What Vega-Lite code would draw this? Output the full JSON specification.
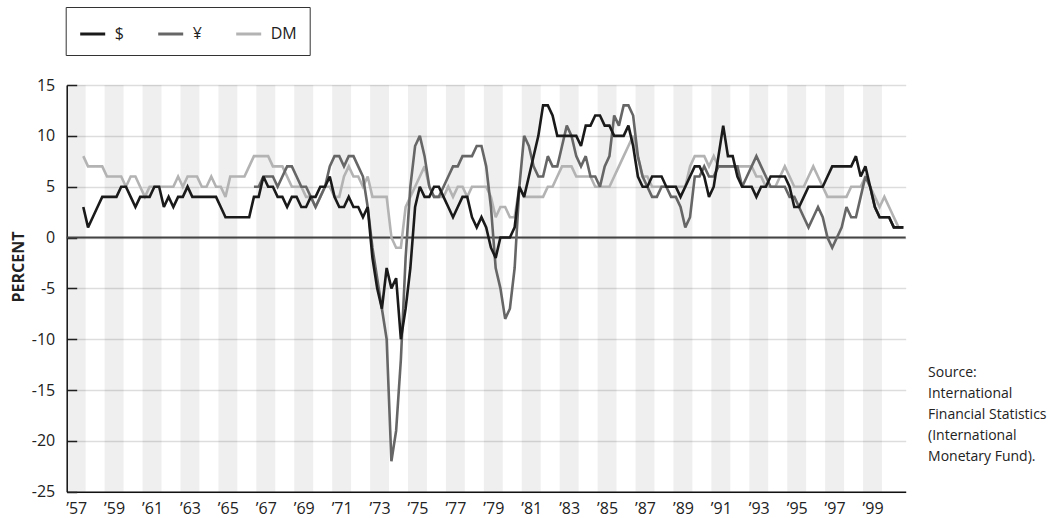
{
  "$schema": "https://vega.github.io/schema/vega-lite/v6.json",
  "width": 839,
  "height": 406.7,
  "autosize": {"type": "none"},
  "padding": {"left": 66.7, "top": 85, "right": 152.3, "bottom": 26.3},
  "background": "white",
  "config": {"font": "Open Sans", "view": {"stroke": null}, "axisX": {"labelOverlap": false}, "axisY": {"labelOverlap": false}},
  "datasets": {
    "bands": [
      {"a":1957,"b":1958},{"a":1959,"b":1960},{"a":1961,"b":1962},{"a":1963,"b":1964},{"a":1965,"b":1966},{"a":1967,"b":1968},{"a":1969,"b":1970},{"a":1971,"b":1972},{"a":1973,"b":1974},{"a":1975,"b":1976},{"a":1977,"b":1978},{"a":1979,"b":1980},{"a":1981,"b":1982},{"a":1983,"b":1984},{"a":1985,"b":1986},{"a":1987,"b":1988},{"a":1989,"b":1990},{"a":1991,"b":1992},{"a":1993,"b":1994},{"a":1995,"b":1996},{"a":1997,"b":1998},{"a":1999,"b":2000}
    ],
    "note": [{"note": "Source:\nInternational\nFinancial Statistics\n(International\nMonetary Fund)."}],
    "series": [
      {"t":1957.875,"c":"DM","v":8},
      {"t":1958.125,"c":"DM","v":7},{"t":1958.375,"c":"DM","v":7},{"t":1958.625,"c":"DM","v":7},{"t":1958.875,"c":"DM","v":7},
      {"t":1959.125,"c":"DM","v":6},{"t":1959.375,"c":"DM","v":6},{"t":1959.625,"c":"DM","v":6},{"t":1959.875,"c":"DM","v":6},
      {"t":1960.125,"c":"DM","v":5},{"t":1960.375,"c":"DM","v":6},{"t":1960.625,"c":"DM","v":6},{"t":1960.875,"c":"DM","v":5},
      {"t":1961.125,"c":"DM","v":4},{"t":1961.375,"c":"DM","v":5},{"t":1961.625,"c":"DM","v":5},{"t":1961.875,"c":"DM","v":5},
      {"t":1962.125,"c":"DM","v":5},{"t":1962.375,"c":"DM","v":5},{"t":1962.625,"c":"DM","v":5},{"t":1962.875,"c":"DM","v":6},
      {"t":1963.125,"c":"DM","v":5},{"t":1963.375,"c":"DM","v":6},{"t":1963.625,"c":"DM","v":6},{"t":1963.875,"c":"DM","v":6},
      {"t":1964.125,"c":"DM","v":5},{"t":1964.375,"c":"DM","v":5},{"t":1964.625,"c":"DM","v":6},{"t":1964.875,"c":"DM","v":5},
      {"t":1965.125,"c":"DM","v":5},{"t":1965.375,"c":"DM","v":4},{"t":1965.625,"c":"DM","v":6},{"t":1965.875,"c":"DM","v":6},
      {"t":1966.125,"c":"DM","v":6},{"t":1966.375,"c":"DM","v":6},{"t":1966.625,"c":"DM","v":7},{"t":1966.875,"c":"DM","v":8},
      {"t":1967.125,"c":"DM","v":8},{"t":1967.375,"c":"DM","v":8},{"t":1967.625,"c":"DM","v":8},{"t":1967.875,"c":"DM","v":7},
      {"t":1968.125,"c":"DM","v":7},{"t":1968.375,"c":"DM","v":7},{"t":1968.625,"c":"DM","v":6},{"t":1968.875,"c":"DM","v":5},
      {"t":1969.125,"c":"DM","v":5},{"t":1969.375,"c":"DM","v":5},{"t":1969.625,"c":"DM","v":4},{"t":1969.875,"c":"DM","v":4},
      {"t":1970.125,"c":"DM","v":3},{"t":1970.375,"c":"DM","v":4},{"t":1970.625,"c":"DM","v":5},{"t":1970.875,"c":"DM","v":5},
      {"t":1971.125,"c":"DM","v":4},{"t":1971.375,"c":"DM","v":4},{"t":1971.625,"c":"DM","v":6},{"t":1971.875,"c":"DM","v":7},
      {"t":1972.125,"c":"DM","v":6},{"t":1972.375,"c":"DM","v":6},{"t":1972.625,"c":"DM","v":5},{"t":1972.875,"c":"DM","v":6},
      {"t":1973.125,"c":"DM","v":4},{"t":1973.375,"c":"DM","v":4},{"t":1973.625,"c":"DM","v":4},{"t":1973.875,"c":"DM","v":4},
      {"t":1974.125,"c":"DM","v":0},{"t":1974.375,"c":"DM","v":-1},{"t":1974.625,"c":"DM","v":-1},{"t":1974.875,"c":"DM","v":3},
      {"t":1975.125,"c":"DM","v":4},{"t":1975.375,"c":"DM","v":5},{"t":1975.625,"c":"DM","v":6},{"t":1975.875,"c":"DM","v":7},
      {"t":1976.125,"c":"DM","v":5},{"t":1976.375,"c":"DM","v":4},{"t":1976.625,"c":"DM","v":4},{"t":1976.875,"c":"DM","v":4},
      {"t":1977.125,"c":"DM","v":5},{"t":1977.375,"c":"DM","v":4},{"t":1977.625,"c":"DM","v":5},{"t":1977.875,"c":"DM","v":5},
      {"t":1978.125,"c":"DM","v":4},{"t":1978.375,"c":"DM","v":5},{"t":1978.625,"c":"DM","v":5},{"t":1978.875,"c":"DM","v":5},
      {"t":1979.125,"c":"DM","v":5},{"t":1979.375,"c":"DM","v":4},{"t":1979.625,"c":"DM","v":2},{"t":1979.875,"c":"DM","v":3},
      {"t":1980.125,"c":"DM","v":3},{"t":1980.375,"c":"DM","v":2},{"t":1980.625,"c":"DM","v":2},{"t":1980.875,"c":"DM","v":5},
      {"t":1981.125,"c":"DM","v":4},{"t":1981.375,"c":"DM","v":4},{"t":1981.625,"c":"DM","v":4},{"t":1981.875,"c":"DM","v":4},
      {"t":1982.125,"c":"DM","v":4},{"t":1982.375,"c":"DM","v":5},{"t":1982.625,"c":"DM","v":5},{"t":1982.875,"c":"DM","v":6},
      {"t":1983.125,"c":"DM","v":7},{"t":1983.375,"c":"DM","v":7},{"t":1983.625,"c":"DM","v":7},{"t":1983.875,"c":"DM","v":6},
      {"t":1984.125,"c":"DM","v":6},{"t":1984.375,"c":"DM","v":6},{"t":1984.625,"c":"DM","v":6},{"t":1984.875,"c":"DM","v":5},
      {"t":1985.125,"c":"DM","v":5},{"t":1985.375,"c":"DM","v":5},{"t":1985.625,"c":"DM","v":5},{"t":1985.875,"c":"DM","v":6},
      {"t":1986.125,"c":"DM","v":7},{"t":1986.375,"c":"DM","v":8},{"t":1986.625,"c":"DM","v":9},{"t":1986.875,"c":"DM","v":10},
      {"t":1987.125,"c":"DM","v":8},{"t":1987.375,"c":"DM","v":6},{"t":1987.625,"c":"DM","v":6},{"t":1987.875,"c":"DM","v":5},
      {"t":1988.125,"c":"DM","v":5},{"t":1988.375,"c":"DM","v":5},{"t":1988.625,"c":"DM","v":5},{"t":1988.875,"c":"DM","v":5},
      {"t":1989.125,"c":"DM","v":5},{"t":1989.375,"c":"DM","v":5},{"t":1989.625,"c":"DM","v":5},{"t":1989.875,"c":"DM","v":7},
      {"t":1990.125,"c":"DM","v":8},{"t":1990.375,"c":"DM","v":8},{"t":1990.625,"c":"DM","v":8},{"t":1990.875,"c":"DM","v":7},
      {"t":1991.125,"c":"DM","v":8},{"t":1991.375,"c":"DM","v":7},{"t":1991.625,"c":"DM","v":7},{"t":1991.875,"c":"DM","v":7},
      {"t":1992.125,"c":"DM","v":7},{"t":1992.375,"c":"DM","v":7},{"t":1992.625,"c":"DM","v":7},{"t":1992.875,"c":"DM","v":7},
      {"t":1993.125,"c":"DM","v":7},{"t":1993.375,"c":"DM","v":6},{"t":1993.625,"c":"DM","v":6},{"t":1993.875,"c":"DM","v":5},
      {"t":1994.125,"c":"DM","v":5},{"t":1994.375,"c":"DM","v":5},{"t":1994.625,"c":"DM","v":6},{"t":1994.875,"c":"DM","v":7},
      {"t":1995.125,"c":"DM","v":6},{"t":1995.375,"c":"DM","v":5},{"t":1995.625,"c":"DM","v":5},{"t":1995.875,"c":"DM","v":5},
      {"t":1996.125,"c":"DM","v":6},{"t":1996.375,"c":"DM","v":7},{"t":1996.625,"c":"DM","v":6},{"t":1996.875,"c":"DM","v":5},
      {"t":1997.125,"c":"DM","v":4},{"t":1997.375,"c":"DM","v":4},{"t":1997.625,"c":"DM","v":4},{"t":1997.875,"c":"DM","v":4},
      {"t":1998.125,"c":"DM","v":4},{"t":1998.375,"c":"DM","v":5},{"t":1998.625,"c":"DM","v":5},{"t":1998.875,"c":"DM","v":5},
      {"t":1999.125,"c":"DM","v":6},{"t":1999.375,"c":"DM","v":5},{"t":1999.625,"c":"DM","v":4},{"t":1999.875,"c":"DM","v":3},
      {"t":2000.125,"c":"DM","v":4},{"t":2000.375,"c":"DM","v":3},{"t":2000.625,"c":"DM","v":2},{"t":2000.875,"c":"DM","v":1},
      {"t":2001.125,"c":"DM","v":1},

      {"t":1966.875,"c":"¥","v":5},
      {"t":1967.125,"c":"¥","v":5},{"t":1967.375,"c":"¥","v":6},{"t":1967.625,"c":"¥","v":6},{"t":1967.875,"c":"¥","v":6},
      {"t":1968.125,"c":"¥","v":5},{"t":1968.375,"c":"¥","v":6},{"t":1968.625,"c":"¥","v":7},{"t":1968.875,"c":"¥","v":7},
      {"t":1969.125,"c":"¥","v":6},{"t":1969.375,"c":"¥","v":5},{"t":1969.625,"c":"¥","v":5},{"t":1969.875,"c":"¥","v":4},
      {"t":1970.125,"c":"¥","v":3},{"t":1970.375,"c":"¥","v":4},{"t":1970.625,"c":"¥","v":5},{"t":1970.875,"c":"¥","v":7},
      {"t":1971.125,"c":"¥","v":8},{"t":1971.375,"c":"¥","v":8},{"t":1971.625,"c":"¥","v":7},{"t":1971.875,"c":"¥","v":8},
      {"t":1972.125,"c":"¥","v":8},{"t":1972.375,"c":"¥","v":7},{"t":1972.625,"c":"¥","v":6},{"t":1972.875,"c":"¥","v":3},
      {"t":1973.125,"c":"¥","v":-1},{"t":1973.375,"c":"¥","v":-4},{"t":1973.625,"c":"¥","v":-7},{"t":1973.875,"c":"¥","v":-10},
      {"t":1974.125,"c":"¥","v":-22},{"t":1974.375,"c":"¥","v":-19},{"t":1974.625,"c":"¥","v":-12},{"t":1974.875,"c":"¥","v":-2},
      {"t":1975.125,"c":"¥","v":5},{"t":1975.375,"c":"¥","v":9},{"t":1975.625,"c":"¥","v":10},{"t":1975.875,"c":"¥","v":8},
      {"t":1976.125,"c":"¥","v":5},{"t":1976.375,"c":"¥","v":4},{"t":1976.625,"c":"¥","v":4},{"t":1976.875,"c":"¥","v":5},
      {"t":1977.125,"c":"¥","v":6},{"t":1977.375,"c":"¥","v":7},{"t":1977.625,"c":"¥","v":7},{"t":1977.875,"c":"¥","v":8},
      {"t":1978.125,"c":"¥","v":8},{"t":1978.375,"c":"¥","v":8},{"t":1978.625,"c":"¥","v":9},{"t":1978.875,"c":"¥","v":9},
      {"t":1979.125,"c":"¥","v":7},{"t":1979.375,"c":"¥","v":3},{"t":1979.625,"c":"¥","v":-3},{"t":1979.875,"c":"¥","v":-5},
      {"t":1980.125,"c":"¥","v":-8},{"t":1980.375,"c":"¥","v":-7},{"t":1980.625,"c":"¥","v":-3},{"t":1980.875,"c":"¥","v":5},
      {"t":1981.125,"c":"¥","v":10},{"t":1981.375,"c":"¥","v":9},{"t":1981.625,"c":"¥","v":7},{"t":1981.875,"c":"¥","v":6},
      {"t":1982.125,"c":"¥","v":6},{"t":1982.375,"c":"¥","v":8},{"t":1982.625,"c":"¥","v":7},{"t":1982.875,"c":"¥","v":7},
      {"t":1983.125,"c":"¥","v":9},{"t":1983.375,"c":"¥","v":11},{"t":1983.625,"c":"¥","v":10},{"t":1983.875,"c":"¥","v":8},
      {"t":1984.125,"c":"¥","v":7},{"t":1984.375,"c":"¥","v":8},{"t":1984.625,"c":"¥","v":6},{"t":1984.875,"c":"¥","v":6},
      {"t":1985.125,"c":"¥","v":5},{"t":1985.375,"c":"¥","v":7},{"t":1985.625,"c":"¥","v":8},{"t":1985.875,"c":"¥","v":12},
      {"t":1986.125,"c":"¥","v":11},{"t":1986.375,"c":"¥","v":13},{"t":1986.625,"c":"¥","v":13},{"t":1986.875,"c":"¥","v":12},
      {"t":1987.125,"c":"¥","v":8},{"t":1987.375,"c":"¥","v":6},{"t":1987.625,"c":"¥","v":5},{"t":1987.875,"c":"¥","v":4},
      {"t":1988.125,"c":"¥","v":4},{"t":1988.375,"c":"¥","v":5},{"t":1988.625,"c":"¥","v":5},{"t":1988.875,"c":"¥","v":4},
      {"t":1989.125,"c":"¥","v":4},{"t":1989.375,"c":"¥","v":3},{"t":1989.625,"c":"¥","v":1},{"t":1989.875,"c":"¥","v":2},
      {"t":1990.125,"c":"¥","v":6},{"t":1990.375,"c":"¥","v":6},{"t":1990.625,"c":"¥","v":7},{"t":1990.875,"c":"¥","v":6},
      {"t":1991.125,"c":"¥","v":6},{"t":1991.375,"c":"¥","v":7},{"t":1991.625,"c":"¥","v":7},{"t":1991.875,"c":"¥","v":7},
      {"t":1992.125,"c":"¥","v":7},{"t":1992.375,"c":"¥","v":7},{"t":1992.625,"c":"¥","v":5},{"t":1992.875,"c":"¥","v":6},
      {"t":1993.125,"c":"¥","v":7},{"t":1993.375,"c":"¥","v":8},{"t":1993.625,"c":"¥","v":7},{"t":1993.875,"c":"¥","v":6},
      {"t":1994.125,"c":"¥","v":5},{"t":1994.375,"c":"¥","v":5},{"t":1994.625,"c":"¥","v":5},{"t":1994.875,"c":"¥","v":5},
      {"t":1995.125,"c":"¥","v":4},{"t":1995.375,"c":"¥","v":4},{"t":1995.625,"c":"¥","v":3},{"t":1995.875,"c":"¥","v":2},
      {"t":1996.125,"c":"¥","v":1},{"t":1996.375,"c":"¥","v":2},{"t":1996.625,"c":"¥","v":3},{"t":1996.875,"c":"¥","v":2},
      {"t":1997.125,"c":"¥","v":0},{"t":1997.375,"c":"¥","v":-1},{"t":1997.625,"c":"¥","v":0},{"t":1997.875,"c":"¥","v":1},
      {"t":1998.125,"c":"¥","v":3},{"t":1998.375,"c":"¥","v":2},{"t":1998.625,"c":"¥","v":2},{"t":1998.875,"c":"¥","v":4},
      {"t":1999.125,"c":"¥","v":6},{"t":1999.375,"c":"¥","v":5},{"t":1999.625,"c":"¥","v":3},{"t":1999.875,"c":"¥","v":2},
      {"t":2000.125,"c":"¥","v":2},{"t":2000.375,"c":"¥","v":2},{"t":2000.625,"c":"¥","v":1},{"t":2000.875,"c":"¥","v":1},
      {"t":2001.125,"c":"¥","v":1},

      {"t":1957.875,"c":"$","v":3},
      {"t":1958.125,"c":"$","v":1},{"t":1958.375,"c":"$","v":2},{"t":1958.625,"c":"$","v":3},{"t":1958.875,"c":"$","v":4},
      {"t":1959.125,"c":"$","v":4},{"t":1959.375,"c":"$","v":4},{"t":1959.625,"c":"$","v":4},{"t":1959.875,"c":"$","v":5},
      {"t":1960.125,"c":"$","v":5},{"t":1960.375,"c":"$","v":4},{"t":1960.625,"c":"$","v":3},{"t":1960.875,"c":"$","v":4},
      {"t":1961.125,"c":"$","v":4},{"t":1961.375,"c":"$","v":4},{"t":1961.625,"c":"$","v":5},{"t":1961.875,"c":"$","v":5},
      {"t":1962.125,"c":"$","v":3},{"t":1962.375,"c":"$","v":4},{"t":1962.625,"c":"$","v":3},{"t":1962.875,"c":"$","v":4},
      {"t":1963.125,"c":"$","v":4},{"t":1963.375,"c":"$","v":5},{"t":1963.625,"c":"$","v":4},{"t":1963.875,"c":"$","v":4},
      {"t":1964.125,"c":"$","v":4},{"t":1964.375,"c":"$","v":4},{"t":1964.625,"c":"$","v":4},{"t":1964.875,"c":"$","v":4},
      {"t":1965.125,"c":"$","v":3},{"t":1965.375,"c":"$","v":2},{"t":1965.625,"c":"$","v":2},{"t":1965.875,"c":"$","v":2},
      {"t":1966.125,"c":"$","v":2},{"t":1966.375,"c":"$","v":2},{"t":1966.625,"c":"$","v":2},{"t":1966.875,"c":"$","v":4},
      {"t":1967.125,"c":"$","v":4},{"t":1967.375,"c":"$","v":6},{"t":1967.625,"c":"$","v":5},{"t":1967.875,"c":"$","v":5},
      {"t":1968.125,"c":"$","v":4},{"t":1968.375,"c":"$","v":4},{"t":1968.625,"c":"$","v":3},{"t":1968.875,"c":"$","v":4},
      {"t":1969.125,"c":"$","v":4},{"t":1969.375,"c":"$","v":3},{"t":1969.625,"c":"$","v":3},{"t":1969.875,"c":"$","v":4},
      {"t":1970.125,"c":"$","v":4},{"t":1970.375,"c":"$","v":5},{"t":1970.625,"c":"$","v":5},{"t":1970.875,"c":"$","v":6},
      {"t":1971.125,"c":"$","v":4},{"t":1971.375,"c":"$","v":3},{"t":1971.625,"c":"$","v":3},{"t":1971.875,"c":"$","v":4},
      {"t":1972.125,"c":"$","v":3},{"t":1972.375,"c":"$","v":3},{"t":1972.625,"c":"$","v":2},{"t":1972.875,"c":"$","v":3},
      {"t":1973.125,"c":"$","v":-2},{"t":1973.375,"c":"$","v":-5},{"t":1973.625,"c":"$","v":-7},{"t":1973.875,"c":"$","v":-3},
      {"t":1974.125,"c":"$","v":-5},{"t":1974.375,"c":"$","v":-4},{"t":1974.625,"c":"$","v":-10},{"t":1974.875,"c":"$","v":-7},
      {"t":1975.125,"c":"$","v":-3},{"t":1975.375,"c":"$","v":3},{"t":1975.625,"c":"$","v":5},{"t":1975.875,"c":"$","v":4},
      {"t":1976.125,"c":"$","v":4},{"t":1976.375,"c":"$","v":5},{"t":1976.625,"c":"$","v":5},{"t":1976.875,"c":"$","v":4},
      {"t":1977.125,"c":"$","v":3},{"t":1977.375,"c":"$","v":2},{"t":1977.625,"c":"$","v":3},{"t":1977.875,"c":"$","v":4},
      {"t":1978.125,"c":"$","v":4},{"t":1978.375,"c":"$","v":2},{"t":1978.625,"c":"$","v":1},{"t":1978.875,"c":"$","v":2},
      {"t":1979.125,"c":"$","v":1},{"t":1979.375,"c":"$","v":-1},{"t":1979.625,"c":"$","v":-2},{"t":1979.875,"c":"$","v":0},
      {"t":1980.125,"c":"$","v":0},{"t":1980.375,"c":"$","v":0},{"t":1980.625,"c":"$","v":1},{"t":1980.875,"c":"$","v":5},
      {"t":1981.125,"c":"$","v":4},{"t":1981.375,"c":"$","v":6},{"t":1981.625,"c":"$","v":8},{"t":1981.875,"c":"$","v":10},
      {"t":1982.125,"c":"$","v":13},{"t":1982.375,"c":"$","v":13},{"t":1982.625,"c":"$","v":12},{"t":1982.875,"c":"$","v":10},
      {"t":1983.125,"c":"$","v":10},{"t":1983.375,"c":"$","v":10},{"t":1983.625,"c":"$","v":10},{"t":1983.875,"c":"$","v":10},
      {"t":1984.125,"c":"$","v":9},{"t":1984.375,"c":"$","v":11},{"t":1984.625,"c":"$","v":11},{"t":1984.875,"c":"$","v":12},
      {"t":1985.125,"c":"$","v":12},{"t":1985.375,"c":"$","v":11},{"t":1985.625,"c":"$","v":11},{"t":1985.875,"c":"$","v":10},
      {"t":1986.125,"c":"$","v":10},{"t":1986.375,"c":"$","v":10},{"t":1986.625,"c":"$","v":11},{"t":1986.875,"c":"$","v":9},
      {"t":1987.125,"c":"$","v":6},{"t":1987.375,"c":"$","v":5},{"t":1987.625,"c":"$","v":5},{"t":1987.875,"c":"$","v":6},
      {"t":1988.125,"c":"$","v":6},{"t":1988.375,"c":"$","v":6},{"t":1988.625,"c":"$","v":5},{"t":1988.875,"c":"$","v":5},
      {"t":1989.125,"c":"$","v":5},{"t":1989.375,"c":"$","v":4},{"t":1989.625,"c":"$","v":5},{"t":1989.875,"c":"$","v":6},
      {"t":1990.125,"c":"$","v":7},{"t":1990.375,"c":"$","v":7},{"t":1990.625,"c":"$","v":6},{"t":1990.875,"c":"$","v":4},
      {"t":1991.125,"c":"$","v":5},{"t":1991.375,"c":"$","v":8},{"t":1991.625,"c":"$","v":11},{"t":1991.875,"c":"$","v":8},
      {"t":1992.125,"c":"$","v":8},{"t":1992.375,"c":"$","v":6},{"t":1992.625,"c":"$","v":5},{"t":1992.875,"c":"$","v":5},
      {"t":1993.125,"c":"$","v":5},{"t":1993.375,"c":"$","v":4},{"t":1993.625,"c":"$","v":5},{"t":1993.875,"c":"$","v":5},
      {"t":1994.125,"c":"$","v":6},{"t":1994.375,"c":"$","v":6},{"t":1994.625,"c":"$","v":6},{"t":1994.875,"c":"$","v":6},
      {"t":1995.125,"c":"$","v":5},{"t":1995.375,"c":"$","v":3},{"t":1995.625,"c":"$","v":3},{"t":1995.875,"c":"$","v":4},
      {"t":1996.125,"c":"$","v":5},{"t":1996.375,"c":"$","v":5},{"t":1996.625,"c":"$","v":5},{"t":1996.875,"c":"$","v":5},
      {"t":1997.125,"c":"$","v":6},{"t":1997.375,"c":"$","v":7},{"t":1997.625,"c":"$","v":7},{"t":1997.875,"c":"$","v":7},
      {"t":1998.125,"c":"$","v":7},{"t":1998.375,"c":"$","v":7},{"t":1998.625,"c":"$","v":8},{"t":1998.875,"c":"$","v":6},
      {"t":1999.125,"c":"$","v":7},{"t":1999.375,"c":"$","v":5},{"t":1999.625,"c":"$","v":3},{"t":1999.875,"c":"$","v":2},
      {"t":2000.125,"c":"$","v":2},{"t":2000.375,"c":"$","v":2},{"t":2000.625,"c":"$","v":1},{"t":2000.875,"c":"$","v":1},
      {"t":2001.125,"c":"$","v":1}
    ]
  },
  "layer": [
    {
      "data": {"name": "bands"},
      "mark": {"type": "rect", "fill": "#000000", "opacity": 0.063},
      "encoding": {
        "x": {"field": "a", "type": "quantitative", "scale": {"domain": [1957, 2001.25], "nice": false, "zero": false}},
        "x2": {"field": "b"},
        "y": {"datum": 15, "type": "quantitative", "scale": {"domain": [-25, 15], "nice": false, "zero": false}},
        "y2": {"datum": -25}
      }
    },
    {
      "data": {"values": [{}]},
      "mark": {"type": "rule", "color": "#444444", "strokeWidth": 2},
      "encoding": {"y": {"datum": 0, "type": "quantitative"}}
    },
    {
      "data": {"name": "series"},
      "mark": {"type": "line", "strokeWidth": 2.6, "strokeJoin": "miter", "strokeMiterLimit": 3},
      "encoding": {
        "x": {
          "field": "t", "type": "quantitative",
          "scale": {"domain": [1957, 2001.25], "nice": false, "zero": false},
          "axis": {
            "values": [1957.5,1959.5,1961.5,1963.5,1965.5,1967.5,1969.5,1971.5,1973.5,1975.5,1977.5,1979.5,1981.5,1983.5,1985.5,1987.5,1989.5,1991.5,1993.5,1995.5,1997.5,1999.5],
            "tickCount": 60,
            "labelExpr": "'’' + slice(toString(floor(datum.value)), 2)",
            "ticks": false, "grid": false, "title": null,
            "domainColor": "#111111", "domainWidth": 1.5,
            "labelFontSize": 16, "labelColor": "#222222", "labelPadding": 9,
            "labelFlush": false, "labelOverlap": false
          }
        },
        "y": {
          "field": "v", "type": "quantitative",
          "scale": {"domain": [-25, 15], "nice": false, "zero": false},
          "axis": {
            "values": [-25,-20,-15,-10,-5,0,5,10,15],
            "tickCount": 20,
            "labelExpr": "toString(datum.value)",
            "grid": true, "gridColor": "#dddddd", "gridWidth": 1.5,
            "tickSize": -10, "tickColor": "#222222", "tickWidth": 1.5,
            "domainColor": "#111111", "domainWidth": 1.5,
            "labelFontSize": 16, "labelColor": "#222222", "labelPadding": 22,
            "title": "PERCENT", "titleFontWeight": "bold", "titleFontSize": 16, "titleColor": "#222222",
            "titleX": -47.7, "titleY": 181.5, "titleAngle": -90, "titleAlign": "center", "titleBaseline": "middle"
          }
        },
        "color": {
          "field": "c", "type": "nominal",
          "scale": {"domain": ["$", "¥", "DM"], "range": ["#1a1a1a", "#666666", "#b3b3b3"]},
          "legend": {
            "orient": "none", "legendX": -1, "legendY": -78, "direction": "horizontal",
            "title": null, "strokeColor": "#333333", "fillColor": "#ffffff", "padding": 13,
            "symbolType": "stroke", "symbolSize": 625, "symbolStrokeWidth": 3,
            "labelFontSize": 16, "labelColor": "#222222", "labelOffset": 8, "columnPadding": 27
          }
        }
      }
    },
    {
      "data": {"name": "note"},
      "mark": {"type": "text", "align": "left", "baseline": "top", "fontSize": 14, "lineHeight": 21, "lineBreak": "\n", "color": "#222222"},
      "encoding": {
        "x": {"datum": 2002.43, "type": "quantitative"},
        "y": {"datum": -12.6, "type": "quantitative"},
        "text": {"field": "note"}
      }
    }
  ]
}
